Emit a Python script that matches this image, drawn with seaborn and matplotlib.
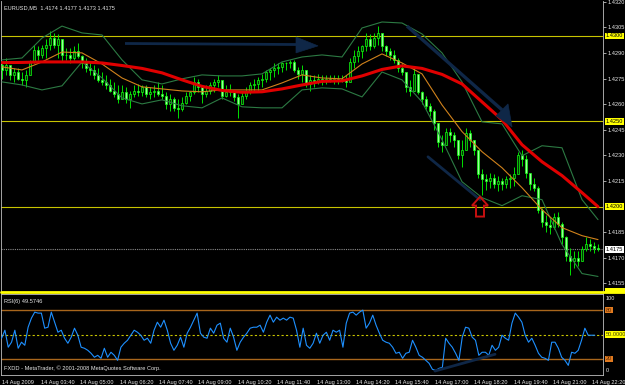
import numpy as np
import matplotlib
matplotlib.use("Agg")
import matplotlib.pyplot as plt
from matplotlib import font_manager
from matplotlib.patches import Polygon, Rectangle
from matplotlib.lines import Line2D
import matplotlib.transforms as mtransforms
import seaborn as sns

# ---------------- data ----------------
OPEN0 = 1.4283
HIGH = [1.4284,1.4287,1.4283,1.4281,1.4281,1.4279,1.4280,1.4286,1.4295,1.4294,
        1.4295,1.4298,1.4303,1.4302,1.4301,1.4296,1.4293,1.4293,1.4294,1.4296,
        1.4289,1.4287,1.4285,1.4283,1.4281,1.4279,1.4277,1.4275,1.4273,1.4271,
        1.4271,1.4270,1.4268,1.4271,1.4272,1.4271,1.4271,1.4270,1.4271,1.4273,
        1.4271,1.4267,1.4266,1.4264,1.4263,1.4264,1.4267,1.4268,1.4276,1.4275,
        1.4271,1.4271,1.4273,1.4275,1.4277,1.4273,1.4271,1.4272,1.4268,1.4266,
        1.4268,1.4270,1.4273,1.4275,1.4276,1.4278,1.4280,1.4281,1.4284,1.4284,
        1.4285,1.4285,1.4286,1.4286,1.4282,1.4283,1.4280,1.4277,1.4277,1.4278,
        1.4277,1.4277,1.4277,1.4277,1.4277,1.4277,1.4277,1.4287,1.4292,1.4294,
        1.4295,1.4302,1.4301,1.4302,1.4306,1.4301,1.4295,1.4293,1.4292,1.4287,
        1.4284,1.4278,1.4274,1.4281,1.4277,1.4268,1.4265,1.4261,1.4257,1.4248,
        1.4242,1.4246,1.4246,1.4244,1.4239,1.4239,1.4246,1.4245,1.4239,1.4232,
        1.4222,1.4219,1.4220,1.4219,1.4218,1.4217,1.4218,1.4219,1.4223,1.4232,
        1.4233,1.4230,1.4220,1.4217,1.4212,1.4199,1.4195,1.4194,1.4196,1.4197,
        1.4191,1.4183,1.4176,1.4174,1.4174,1.4177,1.4182,1.4181,1.4179,1.4178]
LOW = [1.4275,1.4277,1.4274,1.4273,1.4274,1.4271,1.4270,1.4277,1.4284,1.4286,
       1.4287,1.4287,1.4292,1.4293,1.4287,1.4285,1.4286,1.4284,1.4286,1.4287,
       1.4281,1.4279,1.4277,1.4275,1.4273,1.4271,1.4269,1.4267,1.4264,1.4261,
       1.4263,1.4261,1.4258,1.4264,1.4265,1.4265,1.4264,1.4263,1.4264,1.4265,
       1.4263,1.4257,1.4256,1.4256,1.4252,1.4256,1.4260,1.4262,1.4266,1.4267,
       1.4261,1.4264,1.4266,1.4267,1.4270,1.4263,1.4264,1.4265,1.4262,1.4252,
       1.4260,1.4263,1.4266,1.4267,1.4268,1.4270,1.4273,1.4274,1.4276,1.4278,
       1.4279,1.4280,1.4281,1.4279,1.4275,1.4273,1.4270,1.4268,1.4270,1.4272,
       1.4271,1.4272,1.4273,1.4272,1.4272,1.4273,1.4270,1.4274,1.4281,1.4285,
       1.4287,1.4291,1.4292,1.4293,1.4295,1.4291,1.4288,1.4286,1.4284,1.4279,
       1.4277,1.4267,1.4265,1.4271,1.4266,1.4260,1.4257,1.4253,1.4245,1.4235,
       1.4232,1.4236,1.4238,1.4235,1.4228,1.4223,1.4236,1.4235,1.4230,1.4217,
       1.4207,1.4210,1.4211,1.4211,1.4209,1.4210,1.4211,1.4211,1.4212,1.4220,
       1.4224,1.4217,1.4210,1.4209,1.4196,1.4188,1.4185,1.4184,1.4187,1.4188,
       1.4178,1.4168,1.4160,1.4164,1.4165,1.4168,1.4174,1.4174,1.4173,1.4174]
CLOSE = [1.4280,1.4283,1.4277,1.4279,1.4275,1.4274,1.4277,1.4285,1.4292,1.4289,
         1.4293,1.4295,1.4299,1.4295,1.4298,1.4289,1.4289,1.4287,1.4291,1.4288,
         1.4284,1.4281,1.4280,1.4277,1.4274,1.4273,1.4271,1.4268,1.4266,1.4263,
         1.4267,1.4263,1.4266,1.4268,1.4267,1.4270,1.4266,1.4267,1.4268,1.4266,
         1.4265,1.4260,1.4263,1.4258,1.4257,1.4261,1.4265,1.4267,1.4273,1.4270,
         1.4266,1.4268,1.4271,1.4273,1.4274,1.4265,1.4267,1.4268,1.4264,1.4260,
         1.4265,1.4268,1.4271,1.4272,1.4274,1.4275,1.4279,1.4280,1.4281,1.4282,
         1.4284,1.4284,1.4285,1.4280,1.4278,1.4280,1.4272,1.4274,1.4273,1.4275,
         1.4274,1.4275,1.4274,1.4275,1.4274,1.4275,1.4273,1.4285,1.4288,1.4291,
         1.4294,1.4298,1.4294,1.4299,1.4302,1.4294,1.4291,1.4289,1.4286,1.4281,
         1.4279,1.4270,1.4268,1.4278,1.4267,1.4263,1.4259,1.4256,1.4249,1.4238,
         1.4236,1.4244,1.4242,1.4239,1.4230,1.4233,1.4243,1.4239,1.4233,1.4219,
         1.4216,1.4215,1.4217,1.4213,1.4215,1.4213,1.4216,1.4217,1.4219,1.4230,
         1.4228,1.4220,1.4213,1.4211,1.4198,1.4191,1.4189,1.4188,1.4194,1.4190,
         1.4182,1.4171,1.4168,1.4170,1.4168,1.4175,1.4178,1.4177,1.4176,1.4175]

LINE_IDX = [0, 5, 10, 15, 20, 25, 30, 35, 40, 45, 50, 55, 60, 65, 70, 75, 80, 85,
            90, 95, 100, 105, 110, 115, 120, 125, 130, 135, 140, 145, 149]
MA_RED = [1.42844,1.42845,1.42848,1.42848,1.42848,1.42842,1.42827,1.42810,1.42784,
          1.42743,1.42705,1.42681,1.42670,1.42673,1.42690,1.42713,1.42734,1.42737,
          1.42766,1.42804,1.42825,1.42810,1.42775,1.42719,1.42614,1.42509,1.42363,
          1.42263,1.42182,1.42082,1.42000]
MA_ORANGE = [1.42819,1.42801,1.42848,1.42906,1.42901,1.42836,1.42754,1.42702,1.42690,
             1.42678,1.42673,1.42684,1.42684,1.42684,1.42725,1.42772,1.42754,1.42749,
             1.42836,1.42895,1.42842,1.42778,1.42596,1.42440,1.42322,1.42228,1.42111,
             1.41982,1.41877,1.41830,1.41807]
BB_UPPER = [1.42860,1.42871,1.42988,1.43058,1.43018,1.43006,1.42860,1.42743,1.42719,
            1.42749,1.42772,1.42766,1.42766,1.42778,1.42848,1.42877,1.42889,1.42877,
            1.43047,1.43082,1.43076,1.43012,1.42901,1.42731,1.42497,1.42485,1.42298,
            1.42357,1.42345,1.42041,1.41924]
BB_LOWER = [1.42731,1.42713,1.42684,1.42708,1.42848,1.42754,1.42637,1.42602,1.42626,
            1.42591,1.42579,1.42637,1.42585,1.42579,1.42579,1.42684,1.42696,1.42690,
            1.42643,1.42789,1.42743,1.42614,1.42392,1.42146,1.42053,1.42006,1.42064,
            1.42041,1.41778,1.41608,1.41591]

RSI = [45.4,55.3,34.3,40.5,55.3,33.0,40.5,36.7,59.0,70.2,77.6,76.4,76.4,57.8,59.0,77.6,
       65.2,52.8,55.3,45.4,39.2,46.7,57.8,49.1,34.3,33.0,30.5,26.8,21.9,24.3,20.6,33.0,
       21.9,28.1,24.3,18.1,34.3,39.2,42.9,49.1,55.3,52.8,49.1,42.9,45.4,39.2,55.3,65.2,
       59.0,67.7,55.3,39.2,30.5,36.7,46.7,34.3,51.6,59.0,67.7,76.4,51.6,46.7,45.4,57.8,
       51.6,61.5,64.0,45.4,40.5,57.8,46.7,30.5,40.5,46.7,51.6,57.8,59.0,59.0,61.5,52.8,
       65.2,73.9,65.2,71.4,67.7,70.2,67.7,71.4,70.2,55.3,34.3,57.8,36.7,33.0,39.2,
       51.6,39.2,49.1,52.8,42.9,55.3,52.8,55.3,34.3,64.0,76.4,77.6,73.9,77.6,80.1,57.8,
       64.0,73.9,61.5,51.6,42.9,40.5,39.2,34.3,26.8,28.1,20.6,26.8,28.1,42.9,34.3,24.3,
       21.9,18.1,14.4,7.0,5.7,8.2,9.4,45.4,39.2,34.3,26.8,18.1,46.7,59.0,57.8,46.7,
       42.9,24.3,28.1,28.1,24.3,36.7,30.5,34.3,49.1,45.4,42.9,64.0,76.4,71.4,65.2,49.1,
       40.5,45.4,36.7,26.8,21.9,20.6,18.1,40.5,40.5,33.0,21.9,18.1,11.9,28.1,26.8,30.5,
       42.9,57.8,49.1,49.1,49.1]
RSI_SPAN = (-0.1, 148.2)

H_LEVELS = [1.4300, 1.4250, 1.4200]
BOTTOM_LEVEL = 1.4150
BID = 1.4175
PRICE_TICKS = [1.4155, 1.4170, 1.4185, 1.4215, 1.4230, 1.4245, 1.4260, 1.4275,
               1.4290, 1.4305, 1.4320]
RSI_LEVELS = [80, 20]
RSI_MID = 50
TIME_POS = [-0.12, 9.72, 19.57, 29.42, 39.27, 49.12, 58.97, 68.82, 78.67, 88.52,
            98.37, 108.22, 118.07, 127.92, 137.77, 147.62]
TIME_LABELS = ["14 Aug 2009", "14 Aug 03:40", "14 Aug 05:00", "14 Aug 06:20",
               "14 Aug 07:40", "14 Aug 09:00", "14 Aug 10:20", "14 Aug 11:40",
               "14 Aug 13:00", "14 Aug 14:20", "14 Aug 15:40", "14 Aug 17:00",
               "14 Aug 18:20", "14 Aug 19:40", "14 Aug 21:00", "14 Aug 22:20"]

# user-drawn objects (time index, price)
H_ARROW_LINE = [(30.75, 1.42956), (73.5, 1.42950)]
H_ARROW_HEAD = [(73.5, 1.42994), (79.0, 1.42942), (73.5, 1.42901)]
D_ARROW_LINE = [(101.25, 1.43058), (125.0, 1.42567)]
D_ARROW_HEAD = [(123.5, 1.42532), (126.5, 1.42602), (127.5, 1.42468)]
TREND_LINE = [(106.5, 1.42292), (119.5, 1.42041)]
UP_ARROW = [(119.5, 1.42058), (121.5, 1.42006), (120.5, 1.42006), (120.5, 1.41942),
            (118.5, 1.41942), (118.5, 1.42006), (117.5, 1.42006)]
RSI_TREND = [(108.25, 4.9), (123.25, 25.6)]

# ---------------- style ----------------
sns.set_theme(style="dark", rc={"axes.facecolor": "black", "figure.facecolor": "black",
                                "axes.edgecolor": "#c0c0c0", "axes.grid": False})


def pick_font():
    for name in ["Liberation Sans Narrow", "Liberation Sans", "DejaVu Sans"]:
        try:
            font_manager.findfont(font_manager.FontProperties(family=name),
                                  fallback_to_default=False)
            return name
        except Exception:
            pass
    return "DejaVu Sans"


FONT = pick_font()
FS = 5.0 if "Narrow" in FONT else (4.1 if "Liberation" in FONT else 3.8)
plt.rcParams["font.family"] = [FONT, "DejaVu Sans"]
TXT = "#e8e8e8"
NAVY = "#0f2747"

fig = plt.figure(figsize=(6.25, 3.85), dpi=100)
W, H = 625.0, 385.0
ax = fig.add_axes([1 / W, 1 - 292.5 / H, 602 / W, 291.5 / H])
axr = fig.add_axes([1 / W, 1 - 375 / H, 602 / W, 81 / H])

for a in (ax, axr):
    a.set_facecolor("black")
    a.set_xlim(-0.25, 150.25)
    for s in a.spines.values():
        s.set_color("#bfbfbf")
        s.set_linewidth(0.6)

ax.set_ylim(1.41497, 1.43205)
axr.set_ylim(0, 100)

# ---------------- candles ----------------
high = np.array(HIGH)
low = np.array(LOW)
close = np.array(CLOSE)
opn = np.r_[OPEN0, close[:-1]]
idx = np.arange(len(close))
wick_hi = np.maximum(high, np.maximum(opn, close))
wick_lo = np.minimum(low, np.minimum(opn, close))
ax.vlines(idx, wick_lo, wick_hi, color="#00e000", lw=0.7, zorder=3)
faces = np.where(close >= opn, "#003800", "#9cff9c")
ax.bar(idx, close - opn, bottom=opn, width=0.7, color=faces, edgecolor="#10ff10",
       linewidth=0.5, zorder=4)

# ---------------- indicator lines ----------------
sns.lineplot(x=LINE_IDX, y=BB_UPPER, ax=ax, color="#2c7a43", linewidth=0.8, zorder=5,
             legend=False)
sns.lineplot(x=LINE_IDX, y=BB_LOWER, ax=ax, color="#2c7a43", linewidth=0.8, zorder=5,
             legend=False)
sns.lineplot(x=LINE_IDX, y=MA_ORANGE, ax=ax, color="#d0821c", linewidth=0.8, zorder=5,
             legend=False)
sns.lineplot(x=LINE_IDX, y=MA_RED, ax=ax, color="#e00000", linewidth=2.2, zorder=6,
             legend=False)

# horizontal levels
for lv in H_LEVELS:
    ax.axhline(lv, color="#c8c400", lw=0.8, zorder=2)
ax.axhline(BID, color="#8a8a8a", lw=0.8, ls=(0, (1, 1)), zorder=2)
# bottom level line runs under the price scale as well
y_bottom = ax.transData.transform((0, BOTTOM_LEVEL))[1]
y_bottom_fig = fig.transFigure.inverted().transform((0, y_bottom))[1]
fig.add_artist(Line2D([1 / W, 1.0], [y_bottom_fig, y_bottom_fig], color="#ffff00",
                      lw=2.0, zorder=20))
fig.add_artist(Rectangle((605 / W, y_bottom_fig), 20 / W, 3.5 / H, fc="#ffff00",
                         ec="none", zorder=20))

# drawn objects
(x0, y0), (x1, y1) = H_ARROW_LINE
ax.plot([x0, x1], [y0, y1], color=NAVY, lw=2.0, zorder=7, solid_capstyle="butt")
ax.add_patch(Polygon(H_ARROW_HEAD, closed=True, fc=NAVY, ec=NAVY, lw=0.5, zorder=7))
(x0, y0), (x1, y1) = D_ARROW_LINE
ax.plot([x0, x1], [y0, y1], color=NAVY, lw=2.4, zorder=7, solid_capstyle="butt")
ax.add_patch(Polygon(D_ARROW_HEAD, closed=True, fc=NAVY, ec=NAVY, lw=0.5, zorder=7))
(x0, y0), (x1, y1) = TREND_LINE
ax.plot([x0, x1], [y0, y1], color=NAVY, lw=2.0, zorder=7)
ax.add_patch(Polygon(UP_ARROW, closed=True, fill=False, ec="#c81010", lw=1.4, zorder=8))

# price axis
ax.yaxis.tick_right()
ax.set_yticks(PRICE_TICKS)
ax.set_yticklabels([f"{t:.4f}" for t in PRICE_TICKS])
ax.tick_params(axis="y", colors=TXT, labelsize=FS, length=2, width=0.5, pad=1)
ax.set_xticks([])
ax.spines["top"].set_visible(False)
ax.spines["bottom"].set_visible(False)

trans = mtransforms.blended_transform_factory(ax.transAxes, ax.transData)
for lv in H_LEVELS:
    ax.text(1.005, lv, f"{lv:.4f}", transform=trans, ha="left", va="center",
            fontsize=FS, color="black", clip_on=False, zorder=10,
            bbox=dict(boxstyle="square,pad=0.12", fc="#ffff00", ec="none"))
ax.text(1.005, BID, f"{BID:.4f}", transform=trans, ha="left", va="center",
        fontsize=FS, color="black", clip_on=False, zorder=10,
        bbox=dict(boxstyle="square,pad=0.12", fc="white", ec="none"))

# ---------------- RSI ----------------
rsi_x = np.linspace(RSI_SPAN[0], RSI_SPAN[1], len(RSI))
for lv in RSI_LEVELS:
    axr.axhline(lv, color="#a8661c", lw=1.0, zorder=2)
axr.axhline(RSI_MID, color="#c8c400", lw=0.8, ls=(0, (2, 2)), zorder=2)
sns.lineplot(x=rsi_x, y=RSI, ax=axr, color="#1e90ff", linewidth=0.8, zorder=4,
             legend=False)
(x0, y0), (x1, y1) = RSI_TREND
axr.plot([x0, x1], [y0, y1], color=NAVY, lw=2.0, zorder=5)

axr.set_yticks([])
axr.set_xticks(TIME_POS)
axr.set_xticklabels(TIME_LABELS, ha="left")
axr.tick_params(axis="x", colors=TXT, labelsize=FS, length=2.5, width=0.5, pad=1)

rtrans = mtransforms.blended_transform_factory(axr.transAxes, axr.transData)
axr.text(1.005, 94, "100", transform=rtrans, ha="left", va="center", fontsize=FS,
         color=TXT, clip_on=False)
axr.text(1.005, 6, "0", transform=rtrans, ha="left", va="center", fontsize=FS,
         color=TXT, clip_on=False)
for lv in RSI_LEVELS:
    axr.text(1.005, lv, f"{lv}", transform=rtrans, ha="left", va="center", fontsize=FS,
             color="#5a2a00", clip_on=False,
             bbox=dict(boxstyle="square,pad=0.12", fc="#e07a20", ec="none"))
axr.text(1.005, RSI_MID, f"{RSI_MID:.4f}", transform=rtrans, ha="left", va="center",
         fontsize=FS, color="#404000", clip_on=False,
         bbox=dict(boxstyle="square,pad=0.12", fc="#ffff00", ec="none"))

# ---------------- captions ----------------
fig.text(4 / W, 1 - 8 / H, "EURUSD,M5  1.4174 1.4177 1.4173 1.4175", ha="left",
         va="center", fontsize=FS, color=TXT)
fig.text(4 / W, 1 - 301 / H, "RSI(6) 49.5746", ha="left", va="center", fontsize=FS,
         color=TXT)
fig.text(4 / W, 1 - 368 / H, "FXDD - MetaTrader, \u00a9 2001-2008 MetaQuotes Software Corp.",
         ha="left", va="center", fontsize=FS, color=TXT)

fig.savefig("out.png", dpi=100, facecolor="black")
